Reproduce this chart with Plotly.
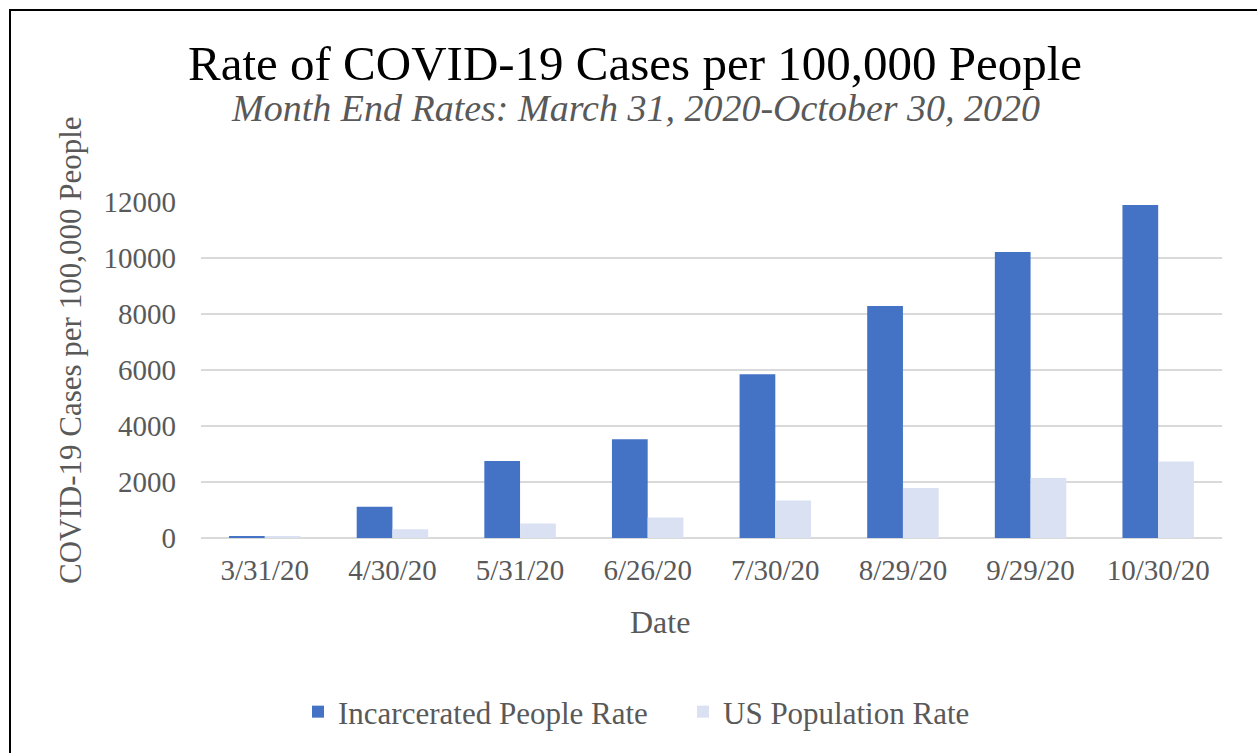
import plotly.graph_objects as go

# Month-end dates and case rates per 100,000 people
dates = ["3/31/20", "4/30/20", "5/31/20", "6/26/20",
         "7/30/20", "8/29/20", "9/29/20", "10/30/20"]
incarcerated_rate = [60, 1120, 2750, 3530, 5850, 8290, 10210, 11890]
us_population_rate = [55, 310, 515, 730, 1335, 1790, 2140, 2730]
y_ticks = [0, 2000, 4000, 6000, 8000, 10000, 12000]

SERIF = "Liberation Serif"
GREY = "#595959"

W, H = 1257, 753
L, R, T, B = 201, 35, 202, 215
PW, PH = W - L - R, H - T - B


def px_x(x):
    return (x - L) / PW


def px_y(y):
    return (H - B - y) / PH


fig = go.Figure()
fig.add_bar(x=dates, y=incarcerated_rate, name="Incarcerated People Rate",
            marker=dict(color="#4472C4", line=dict(width=0)))
fig.add_bar(x=dates, y=us_population_rate, name="US Population Rate",
            marker=dict(color="#D9E1F2", line=dict(width=0)))

fig.update_layout(
    width=W, height=H,
    margin=dict(l=L, r=R, t=T, b=B),
    paper_bgcolor="white", plot_bgcolor="white",
    barmode="group", bargap=0.44, bargroupgap=0,
    font=dict(family=SERIF, color=GREY, size=29),
    showlegend=True,
    legend=dict(orientation="h", x=px_x(683), y=px_y(712),
                xanchor="center", yanchor="middle",
                font=dict(family=SERIF, size=31, color=GREY),
                itemwidth=30, entrywidth=340, traceorder="normal"),
    xaxis=dict(type="category", showgrid=False, showline=False, ticks="",
               tickfont=dict(family=SERIF, size=29, color=GREY),
               ticklabelstandoff=12),
    yaxis=dict(range=[0, 12000], tickvals=y_ticks,
               ticktext=[str(v) for v in y_ticks],
               showgrid=True, gridcolor="#D9D9D9", gridwidth=2,
               zeroline=True, zerolinecolor="#D9D9D9", zerolinewidth=2,
               showline=False, ticks="",
               tickfont=dict(family=SERIF, size=29, color=GREY),
               ticklabelstandoff=24),
)

# Chart titles and axis titles
fig.add_annotation(text="Rate of COVID-19 Cases per 100,000 People",
                   xref="paper", yref="paper", x=px_x(635), y=px_y(64),
                   xanchor="center", yanchor="middle", showarrow=False,
                   font=dict(family=SERIF, size=49, color="black"))
fig.add_annotation(text="<i>Month End Rates: March 31, 2020-October 30, 2020</i>",
                   xref="paper", yref="paper", x=px_x(635), y=px_y(108),
                   xanchor="center", yanchor="middle", showarrow=False,
                   font=dict(family=SERIF, size=38, color=GREY))
fig.add_annotation(text="COVID-19 Cases per 100,000 People",
                   xref="paper", yref="paper", x=px_x(70), y=px_y(350),
                   xanchor="center", yanchor="middle", showarrow=False,
                   textangle=-90,
                   font=dict(family=SERIF, size=31, color=GREY))
fig.add_annotation(text="Date",
                   xref="paper", yref="paper", x=px_x(660), y=px_y(622),
                   xanchor="center", yanchor="middle", showarrow=False,
                   font=dict(family=SERIF, size=32, color=GREY))

# Frame around the chart
fig.add_shape(type="rect", xref="paper", yref="paper",
              x0=px_x(10), x1=px_x(1290), y0=px_y(800), y1=px_y(10),
              line=dict(color="black", width=2), fillcolor="rgba(0,0,0,0)",
              layer="above")

fig.write_html("out.html")
